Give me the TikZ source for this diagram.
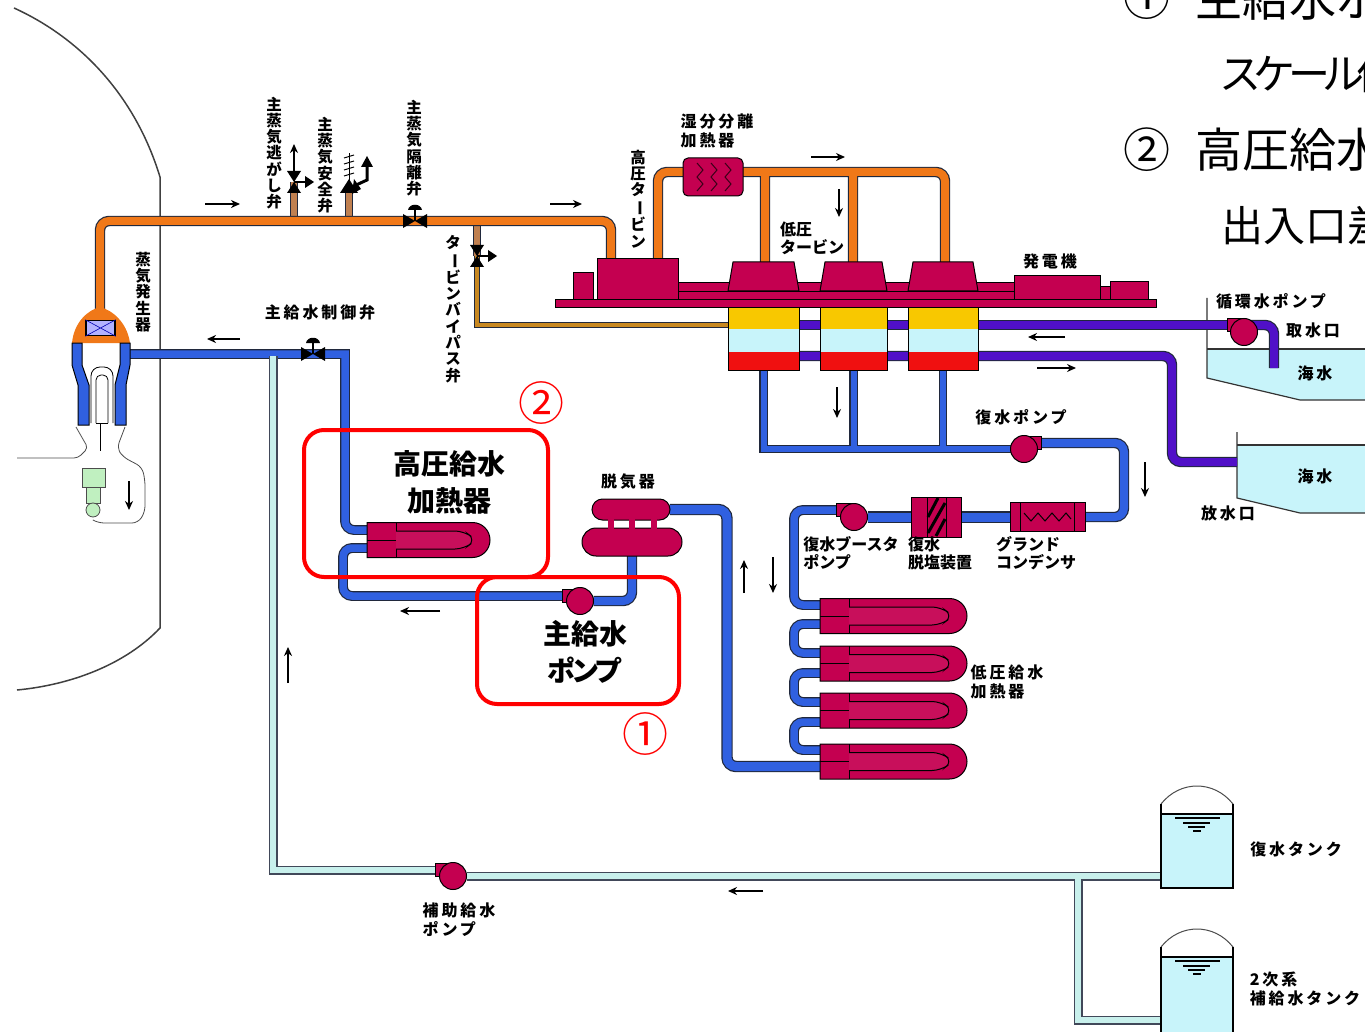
\documentclass[tikz,border=0pt]{standalone}
\usepackage{fontspec}
\setmainfont{Noto Sans CJK JP}
\newfontfamily\labelfont[LetterSpace=18]{Noto Sans CJK JP}
\newfontfamily\tightfont{Noto Sans CJK JP}
\usetikzlibrary{arrows.meta,backgrounds,shapes.geometric,shapes.misc}
\definecolor{pipeline}{HTML}{20283C}
\definecolor{steamc}{HTML}{F07818}
\definecolor{stemc}{HTML}{C08050}
\definecolor{bypassc}{HTML}{C88820}
\definecolor{feedc}{HTML}{3060E0}
\definecolor{seac}{HTML}{5010C8}
\definecolor{auxc}{HTML}{C8F0EC}
\definecolor{plantc}{HTML}{C40050}
\definecolor{goldc}{HTML}{F8C800}
\definecolor{waterc}{HTML}{C8F4FA}
\definecolor{hotc}{HTML}{F01010}
\definecolor{rcpc}{HTML}{C0F0C0}
\definecolor{framec}{HTML}{FF0000}
\tikzset{
  pipebase/.style={rounded corners=9pt,line cap=butt},
  plantbox/.style={draw=black,line width=1pt,fill=plantc,inner sep=0pt,outer sep=0pt},
  heatershell/.style={plantbox,rounded rectangle,rounded rectangle left arc=none,anchor=west,minimum height=35pt},
  condlayer/.style={inner sep=0pt,outer sep=0pt},
  pumpbody/.style={plantbox,circle,minimum size=27pt},
  pumpstub/.style={plantbox,minimum width=18pt,minimum height=13pt},
  redframe/.style={draw=framec,line width=4pt,rounded corners=20pt,inner sep=0pt,minimum width=#1},
  bigtext/.style={font=\fontsize{28}{37}\bfseries\selectfont,align=center},
  redmark/.style={font=\fontsize{46}{46}\selectfont,text=framec,inner sep=0pt},
  sidetext/.style={font=\fontsize{47}{47}\selectfont,anchor=west,inner sep=0pt},
  sidesmall/.style={font=\fontsize{42}{42}\selectfont,anchor=west,inner sep=0pt},
  lbl/.style={font=\labelfont\fontsize{16}{19}\bfseries\selectfont,align=left,inner sep=0pt},
  lbltight/.style={font=\tightfont\fontsize{16}{18}\bfseries\selectfont,align=left,inner sep=0pt},
  lblvert/.style={font=\tightfont\fontsize{15.5}{16.3}\bfseries\selectfont,align=center,inner sep=0pt},
  flowarrow/.style={-{Stealth[length=9pt,width=8pt]},line width=1.5pt},
  basinline/.style={draw=black!80,line width=1.2pt},
  valveh/.pic={
    \fill[black] (-12,-7) -- (12,7) -- (12,-7) -- (-12,7) -- cycle;
    \fill[black] (-1,0) rectangle (1,-11);
    \fill[black] (-7,-11) .. controls (-6,-18) and (6,-18) .. (7,-11) -- cycle;
  },
  valvev/.pic={
    \fill[black] (-7,-11) -- (7,-11) -- (-7,11) -- (7,11) -- cycle;
    \draw[black,line width=1.5pt] (0,0) -- (12,0);
    \fill[black] (11,-6) -- (20,0) -- (11,6) -- cycle;
  },
}
\newcommand{\runpipe}[3]{
  \draw[pipebase,draw=pipeline,line width=#2pt+2.4pt] #3;
  \draw[pipebase,draw=#1,line width=#2pt] #3;
}
\newcommand{\heaterbits}[1]{
  \draw[line width=1pt] ([xshift=29pt]#1.north west) -- ([xshift=29pt]#1.south west);
  \draw[line width=1pt] (#1.west) -- ([xshift=29pt]#1.west);
  \draw[line width=1pt,rounded corners=9pt,fill=plantc!94!white] ([xshift=29pt,yshift=9pt]#1.west) -- ([xshift=-26pt,yshift=9pt]#1.east) -- ([xshift=-14pt]#1.east) -- ([xshift=-26pt,yshift=-9pt]#1.east) -- ([xshift=29pt,yshift=-9pt]#1.west);
}
\newcommand{\lowturbine}[3]{
  \draw[plantbox] ({#2-#3/2},291) -- ({#2-#3/2+5},262) -- ({#2+#3/2-5},262) -- ({#2+#3/2},291) -- cycle;
  \coordinate (#1) at (#2,262);
}
\newcommand{\vbarchar}{\rotatebox[origin=c]{-90}{ー}}
\begin{document}
\begin{tikzpicture}[x=1pt,y=-1pt]
\useasboundingbox (0,0) rectangle (1365,1032);
\clip (0,0) rectangle (1365,1032);

\coordinate (sgtop) at (100,312);
\coordinate (steamcorner) at (100,221);
\coordinate (msiv) at (415,221);
\coordinate (dumpv) at (294,182);
\coordinate (safetyv) at (349,190);
\coordinate (bypassv) at (477,256);
\coordinate (steamturn) at (611,221);
\coordinate (sgfeed) at (130,354);
\coordinate (mfcv) at (313,354);
\coordinate (feedturn) at (345,354);
\coordinate (auxtap) at (273,356);
\coordinate (auxcorner) at (273,870);
\coordinate (auxbranch) at (1078,876);
\coordinate (auxlow) at (1078,1020);

% turbine hall
\node[plantbox,minimum width=20pt,minimum height=27pt] (hpstub) at (583,286.5) {};
\node[plantbox,minimum width=337pt,minimum height=17pt] (shaft) at (846.5,291.5) {};
\draw[line width=1pt] (shaft.west) -- (shaft.east);
\node[plantbox,minimum width=81pt,minimum height=41pt] (hpt) at (637.5,279.5) {};
\lowturbine{lpt1}{763.5}{71}
\lowturbine{lpt2}{853.5}{67}
\lowturbine{lpt3}{943}{70}
\node[plantbox,minimum width=86pt,minimum height=24pt] (gen) at (1057,288) {};
\node[plantbox,minimum width=10pt,minimum height=13pt] (genlink) at (1105,293.5) {};
\node[plantbox,minimum width=38pt,minimum height=18pt] (exciter) at (1129,291) {};
\node[plantbox,minimum width=601pt,minimum height=7pt] (plate) at (855.5,303.5) {};

\foreach \nm/\xx/\ww in {cond1/763.5/71,cond2/853.5/67,cond3/943/70}{
  \node[condlayer,fill=goldc,minimum width=\ww,minimum height=22] at (\xx,318) {};
  \node[condlayer,fill=waterc,minimum width=\ww,minimum height=23] at (\xx,340.5) {};
  \node[condlayer,fill=hotc,minimum width=\ww,minimum height=18] at (\xx,361) {};
  \node[draw=black,line width=1pt,inner sep=0pt,outer sep=0pt,minimum width=\ww,minimum height=63] (\nm) at (\xx,338.5) {};
}

\node[plantbox,rounded corners=5pt,minimum width=60pt,minimum height=38pt] (msr) at (713,177) {};
\draw[black!70!plantc,line width=1pt] (697,163) -- (703,170) -- (697,177) -- (703,184) -- (697,191);
\draw[black!70!plantc,line width=1pt] (711,163) -- (717,170) -- (711,177) -- (717,184) -- (711,191);
\draw[black!70!plantc,line width=1pt] (725,163) -- (731,170) -- (725,177) -- (731,184) -- (725,191);

% feedwater train
\node[heatershell,minimum width=123pt] (hph) at (367,540) {};
\heaterbits{hph}
\foreach \nm/\yy in {lph1/616,lph2/663.5,lph3/710.5,lph4/761.5}{
  \node[heatershell,minimum width=147pt] (\nm) at (820,\yy) {};
  \heaterbits{\nm}
}
\node[plantbox,rounded rectangle,minimum width=78pt,minimum height=21pt] (dacol) at (631,509.5) {};
\node[plantbox,rounded rectangle,minimum width=100pt,minimum height=28pt] (datank) at (632,542) {};
\foreach \xx in {611,632,654}
  \fill[plantc] (\xx-3,519) rectangle (\xx+3,529);

\node[pumpstub] (mfpin) at (571,596) {};
\node[pumpbody] (mfp) at (580,601) {};
\node[pumpstub] (cpin) at (1032,443) {};
\node[pumpbody] (cpump) at (1024,449) {};
\node[pumpstub] (bpin) at (845,510) {};
\node[pumpbody] (bpump) at (854,517) {};
\node[pumpstub] (afpin) at (444,870) {};
\node[pumpbody] (afp) at (453,876) {};
\node[pumpstub] (cwin) at (1236,325) {};
\node[pumpbody] (cwp) at (1244,332) {};

\node[plantbox,minimum width=50pt,minimum height=40pt] (demin) at (936,517) {};
\draw[line width=1pt] (927,497) -- (927,537) (946,497) -- (946,537);
\draw[line width=3pt] (928,517) -- (938,498) (928,533) -- (945,503) (936,536) -- (945,519);
\node[plantbox,minimum width=75pt,minimum height=29pt] (gland) at (1047.5,517) {};
\draw[line width=1pt] (1020,502.5) -- (1020,531.5) (1074,502.5) -- (1074,531.5);
\draw[line width=1pt] (1024,513) -- (1031,521) -- (1038,513) -- (1045,521) -- (1052,513) -- (1059,521) -- (1066,513) -- (1071,519);

% steam generator
\fill[steamc] (72,343) .. controls (74,322) and (88,310) .. (100,307) .. controls (112,310) and (127,322) .. (130,343) -- cycle;
\node[draw=black,line width=1.5pt,fill=blue!30,minimum width=29pt,minimum height=15pt,inner sep=0pt] (sgwin) at (100.5,328) {};
\draw[line width=.6pt,draw=blue!70!black] (sgwin.north west) -- (sgwin.south east) (sgwin.south west) -- (sgwin.north east);
\draw[line width=1pt,fill=feedc] (72,343) -- (72,365) -- (78,385) -- (78,425) -- (89,425) -- (89,385) -- (82,365) -- (82,343) -- cycle;
\draw[line width=1pt,fill=feedc] (130,343) -- (130,365) -- (126,385) -- (126,425) -- (115,425) -- (115,385) -- (120,365) -- (120,343) -- cycle;
\draw[line width=.8pt,rounded corners=9pt] (91,423) -- (91,367) -- (113,367) -- (113,423);
\draw[line width=.8pt,rounded corners=5pt] (96,423) -- (96,375) -- (108,375) -- (108,423);
\draw[line width=.8pt] (96,423) -- (108,423) (100,423) -- (100,451);
\draw[line width=.8pt,draw=black!70,rounded corners=4pt] (76,427) -- (88,448) -- (78,458) -- (17,458);
\draw[line width=.8pt,draw=black!70,rounded corners=6pt] (125,427) -- (117,448) -- (123,457) -- (142,467) -- (145,480) -- (145,512) -- (138,523) -- (98,523) -- (93,520);
\node[draw=black!70,line width=.8pt,fill=rcpc,minimum width=23pt,minimum height=19pt,inner sep=0pt] (rcpbody) at (93.5,477.5) {};
\node[draw=black!70,line width=.8pt,fill=rcpc,minimum width=14pt,minimum height=16pt,inner sep=0pt] (rcpneck) at (93,495) {};
\node[draw=black!70,line width=.8pt,fill=rcpc,circle,minimum size=14pt,inner sep=0pt] (rcpball) at (93,510) {};

% valves
\pic at (mfcv) {valveh};
\pic at (msiv) {valveh};
\pic at (dumpv) {valvev};
\pic at (bypassv) {valvev};
\fill[black] (340,193) -- (349,179) -- (358,193) -- cycle;
\draw[line width=1pt] (349,180) -- (349,153);
\draw[line width=1pt] (344,158) -- (354,155) (344,164) -- (354,161) (344,170) -- (354,167) (344,176) -- (354,173);
\draw[line width=3pt] (354,186) -- (367,180) -- (367,165);
\fill[black] (361,167) -- (367,156) -- (373,167) -- cycle;
\fill[black] (354,179) -- (352,194) -- (361,189) -- cycle;
\draw[-{Stealth[length=9pt,width=8pt]},line width=1.5pt] (dumpv) ++(0,-11) -- (294,144);

% tanks
\foreach \nm/\yy/\yb in {ctank/786/888,dtank/929/1040}{
  \draw[draw=black!70,line width=1pt,fill=white] (1161,\yy+18) .. controls (1180,\yy-6) and (1214,\yy-6) .. (1233,\yy+18) -- (1233,\yy+28) -- (1161,\yy+28) -- cycle;
  \fill[waterc] (1161,\yy+28) rectangle (1233,\yb);
  \draw[line width=1.2pt] (1161,\yy+28) -- (1233,\yy+28);
  \draw[line width=1.2pt] (1161,\yy+18) -- (1161,\yb) -- (1233,\yb) -- (1233,\yy+18);
  \draw[line width=1.4pt] (1175,\yy+32) -- (1220,\yy+32);
  \draw[line width=1.4pt] (1183,\yy+37) -- (1210,\yy+37);
  \draw[line width=1.4pt] (1188,\yy+41) -- (1205,\yy+41);
  \draw[line width=1.4pt] (1193,\yy+45) -- (1201,\yy+45);
}
\coordinate (ctankport) at (1161,876);
\coordinate (dtankport) at (1161,1020);

\begin{scope}[on background layer]
  \draw[draw=black!75,line width=1.5pt] (14,8) .. controls (80,38) and (135,95) .. (160,177) -- (160,628) .. controls (125,665) and (70,685) .. (17,690);
  \fill[waterc] (1207,349) -- (1207,378) -- (1300,400) -- (1365,400) -- (1365,349) -- cycle;
  \draw[basinline] (1207,298) -- (1207,378) -- (1300,400) -- (1365,400);
  \draw[basinline] (1207,349) -- (1365,349);
  \fill[waterc] (1237,445) -- (1237,498) -- (1300,513) -- (1365,513) -- (1365,445) -- cycle;
  \draw[basinline] (1237,432) -- (1237,498) -- (1300,513) -- (1365,513);
  \draw[basinline] (1237,445) -- (1365,445);

  \runpipe{stemc}{6}{(294,216) -- (dumpv) (349,216) -- (safetyv)}
  \runpipe{stemc}{6}{(477,226) -- (bypassv)}
  \runpipe{bypassc}{3.5}{[sharp corners] (bypassv) -- (477,325) -- (cond1.west |- 0,325)}
  \runpipe{steamc}{8}{(sgtop) -- (steamcorner) -- (msiv) -- (steamturn) -- ([xshift=-26.5pt]hpt.north)}
  \runpipe{steamc}{8}{([xshift=20.5pt]hpt.north) |- ([yshift=5pt]msr.west) ([yshift=5pt]msr.east) -- (945,172) -- (lpt3 -| 945,0) (lpt1 -| 765,0) -- (765,172) (lpt2 -| 853,0) -- (853,172)}
  \runpipe{feedc}{7.5}{[sharp corners] (sgfeed) -- (mfcv) -- (feedturn) -- (345,400) [rounded corners=9pt] (345,400) -- (345,530) -- ([yshift=10pt]hph.west)}
  \runpipe{feedc}{7.5}{([yshift=-8pt]hph.west) -- (343,548) -- (343,596) -- (mfpin.west)}
  \runpipe{feedc}{8}{(mfp.east) -- (632,601) -- (datank.south)}
  \runpipe{feedc}{9}{(dacol.east) -- (727,509.5) -- (727,766.5) -- ([yshift=-5pt]lph4.west)}
  \runpipe{feedc}{6}{[sharp corners] (cond1.south) |- (cpump.west) (cond2.south) -- (cond2.south |- cpump.west) (cond3.south) -- (cond3.south |- cpump.west)}
  \runpipe{feedc}{8}{(cpin.east) -- (1124,443) -- (1124,517) -- (gland.east)}
  \runpipe{feedc}{9}{(bpump.east) -- (demin.west) (demin.east) -- (gland.west)}
  \runpipe{feedc}{7.5}{(bpin.west) -- (794,510) -- (794,605) -- (lph1.west |- 0,605)}
  \runpipe{feedc}{7.5}{(lph1.west |- 0,624) -- (794,624) -- (794,653) -- (lph2.west |- 0,653)}
  \runpipe{feedc}{7.5}{(lph2.west |- 0,673) -- (794,673) -- (794,702) -- (lph3.west |- 0,702)}
  \runpipe{feedc}{7.5}{(lph3.west |- 0,722) -- (794,722) -- (794,750) -- (lph4.west |- 0,750)}
  \runpipe{seac}{8}{(cond1.east |- 0,325) -- (cond2.west |- 0,325) (cond2.east |- 0,325) -- (cond3.west |- 0,325) (cond3.east |- 0,325) -- (cwin.west)}
  \runpipe{seac}{8}{(cwin.east) -- (1274,325) -- (1274,368)}
  \runpipe{seac}{8}{(cond1.east |- 0,356) -- (cond2.west |- 0,356) (cond2.east |- 0,356) -- (cond3.west |- 0,356) (cond3.east |- 0,356) -- (1172,356) -- (1172,462) -- (1237,462)}
  \draw[pipebase,draw=pipeline!85,line width=9pt,rounded corners=0pt] (auxtap) -- (auxcorner) -- (afpin.west) (afp.east) -- (ctankport) (auxbranch) -- (auxlow) -- (dtankport);
  \draw[pipebase,draw=auxc,line width=5.5pt,rounded corners=0pt] (auxtap) -- (auxcorner) -- (afpin.west) (afp.east) -- (ctankport) (auxbranch) -- (auxlow) -- (dtankport);
\end{scope}

% flow direction marks
\foreach \xa/\ya/\xb/\yb in {205/204/240/204,550/204/582/204,811/157/845/157,839/189/839/217,240/339/207/339,1065/337/1028/337,1037/368/1076/368,837/387/837/418,1145/462/1145/497,129/481/129/510,744/593/744/560,773/557/773/593,440/611/400/611,288/683/288/647,763/891/728/891}
  \draw[flowarrow] (\xa,\ya) -- (\xb,\yb);

% labels
\node[lblvert] (labeldump) at (274,153) {主\\蒸\\気\\逃\\が\\し\\弁};
\node[lblvert] (labelsafety) at (325,165) {主\\蒸\\気\\安\\全\\弁};
\node[lblvert] (labelmsiv) at (414,148) {主\\蒸\\気\\隔\\離\\弁};
\node[lblvert] (labelsg) at (143,292) {蒸\\気\\発\\生\\器};
\node[lblvert] (labelbypass) at (453,309) {タ\\\vbarchar\\ビ\\ン\\バ\\イ\\パ\\ス\\弁};
\node[lblvert] (labelhpt) at (638,199) {高\\圧\\タ\\\vbarchar\\ビ\\ン};
\node[lbl] (labelmfcv) at (320,312) {主給水制御弁};
\node[lbl] (labelmsr) at (717,131) {湿分分離\\加熱器};
\node[lbltight] (labellpt) at (812,238) {低圧\\タービン};
\node[lbl] (labelgen) at (1050,261) {発電機};
\node[lbl] (labelcw) at (1271,301) {循環水ポンプ};
\node[lbl] (labelin) at (1313,330) {取水口};
\node[lbl] (labelsea1) at (1315,373) {海水};
\node[lbl] (labelsea2) at (1315,476) {海水};
\node[lbl] (labelout) at (1228,513) {放水口};
\node[lbl] (labelcp) at (1021,417) {復水ポンプ};
\node[lbl] (labelda) at (628,482) {脱気器};
\node[lbltight] (labelbp) at (851,553) {復水ブースタ\\ポンプ};
\node[lbltight] (labeldemin) at (940,553) {復水\\脱塩装置};
\node[lbltight] (labelgland) at (1036,553) {グランド\\コンデンサ};
\node[lbl] (labellph) at (1007,682) {低圧給水\\加熱器};
\node[lbl] (labelafp) at (459,920) {補助給水\\ポンプ};
\node[lbl] (labelct) at (1296,849) {復水タンク};
\node[lbl] (labeldt) at (1305,989) {2次系\\補給水タンク};

\node[redframe=244pt,minimum height=147pt] (hpframe) at (426,503.5) {};
\node[redframe=202pt,minimum height=127pt] (mfpframe) at (578,640.5) {};
\node[bigtext] (hptext) at (449,482) {高圧給水\\加熱器};
\node[bigtext] (mfptext) at (585,652) {主給水\\\addfontfeatures{LetterSpace=-16}ポンプ};
\node[redmark] (mark2) at (541,403) {②};
\node[redmark] (mark1) at (645,734) {①};

\node[sidetext,anchor=center] (side1) at (1147,-2) {①};
\node[sidetext] (side1b) at (1195,-2) {主給水ポ};
\node[sidesmall] (side1c) at (1219,74) {\addfontfeatures{LetterSpace=-18}スケール付};
\node[sidetext,anchor=center] (side2) at (1147,150) {②};
\node[sidetext] (side2b) at (1195,150) {高圧給水};
\node[sidesmall] (side2c) at (1221,226) {出入口差};
\end{tikzpicture}
\end{document}
